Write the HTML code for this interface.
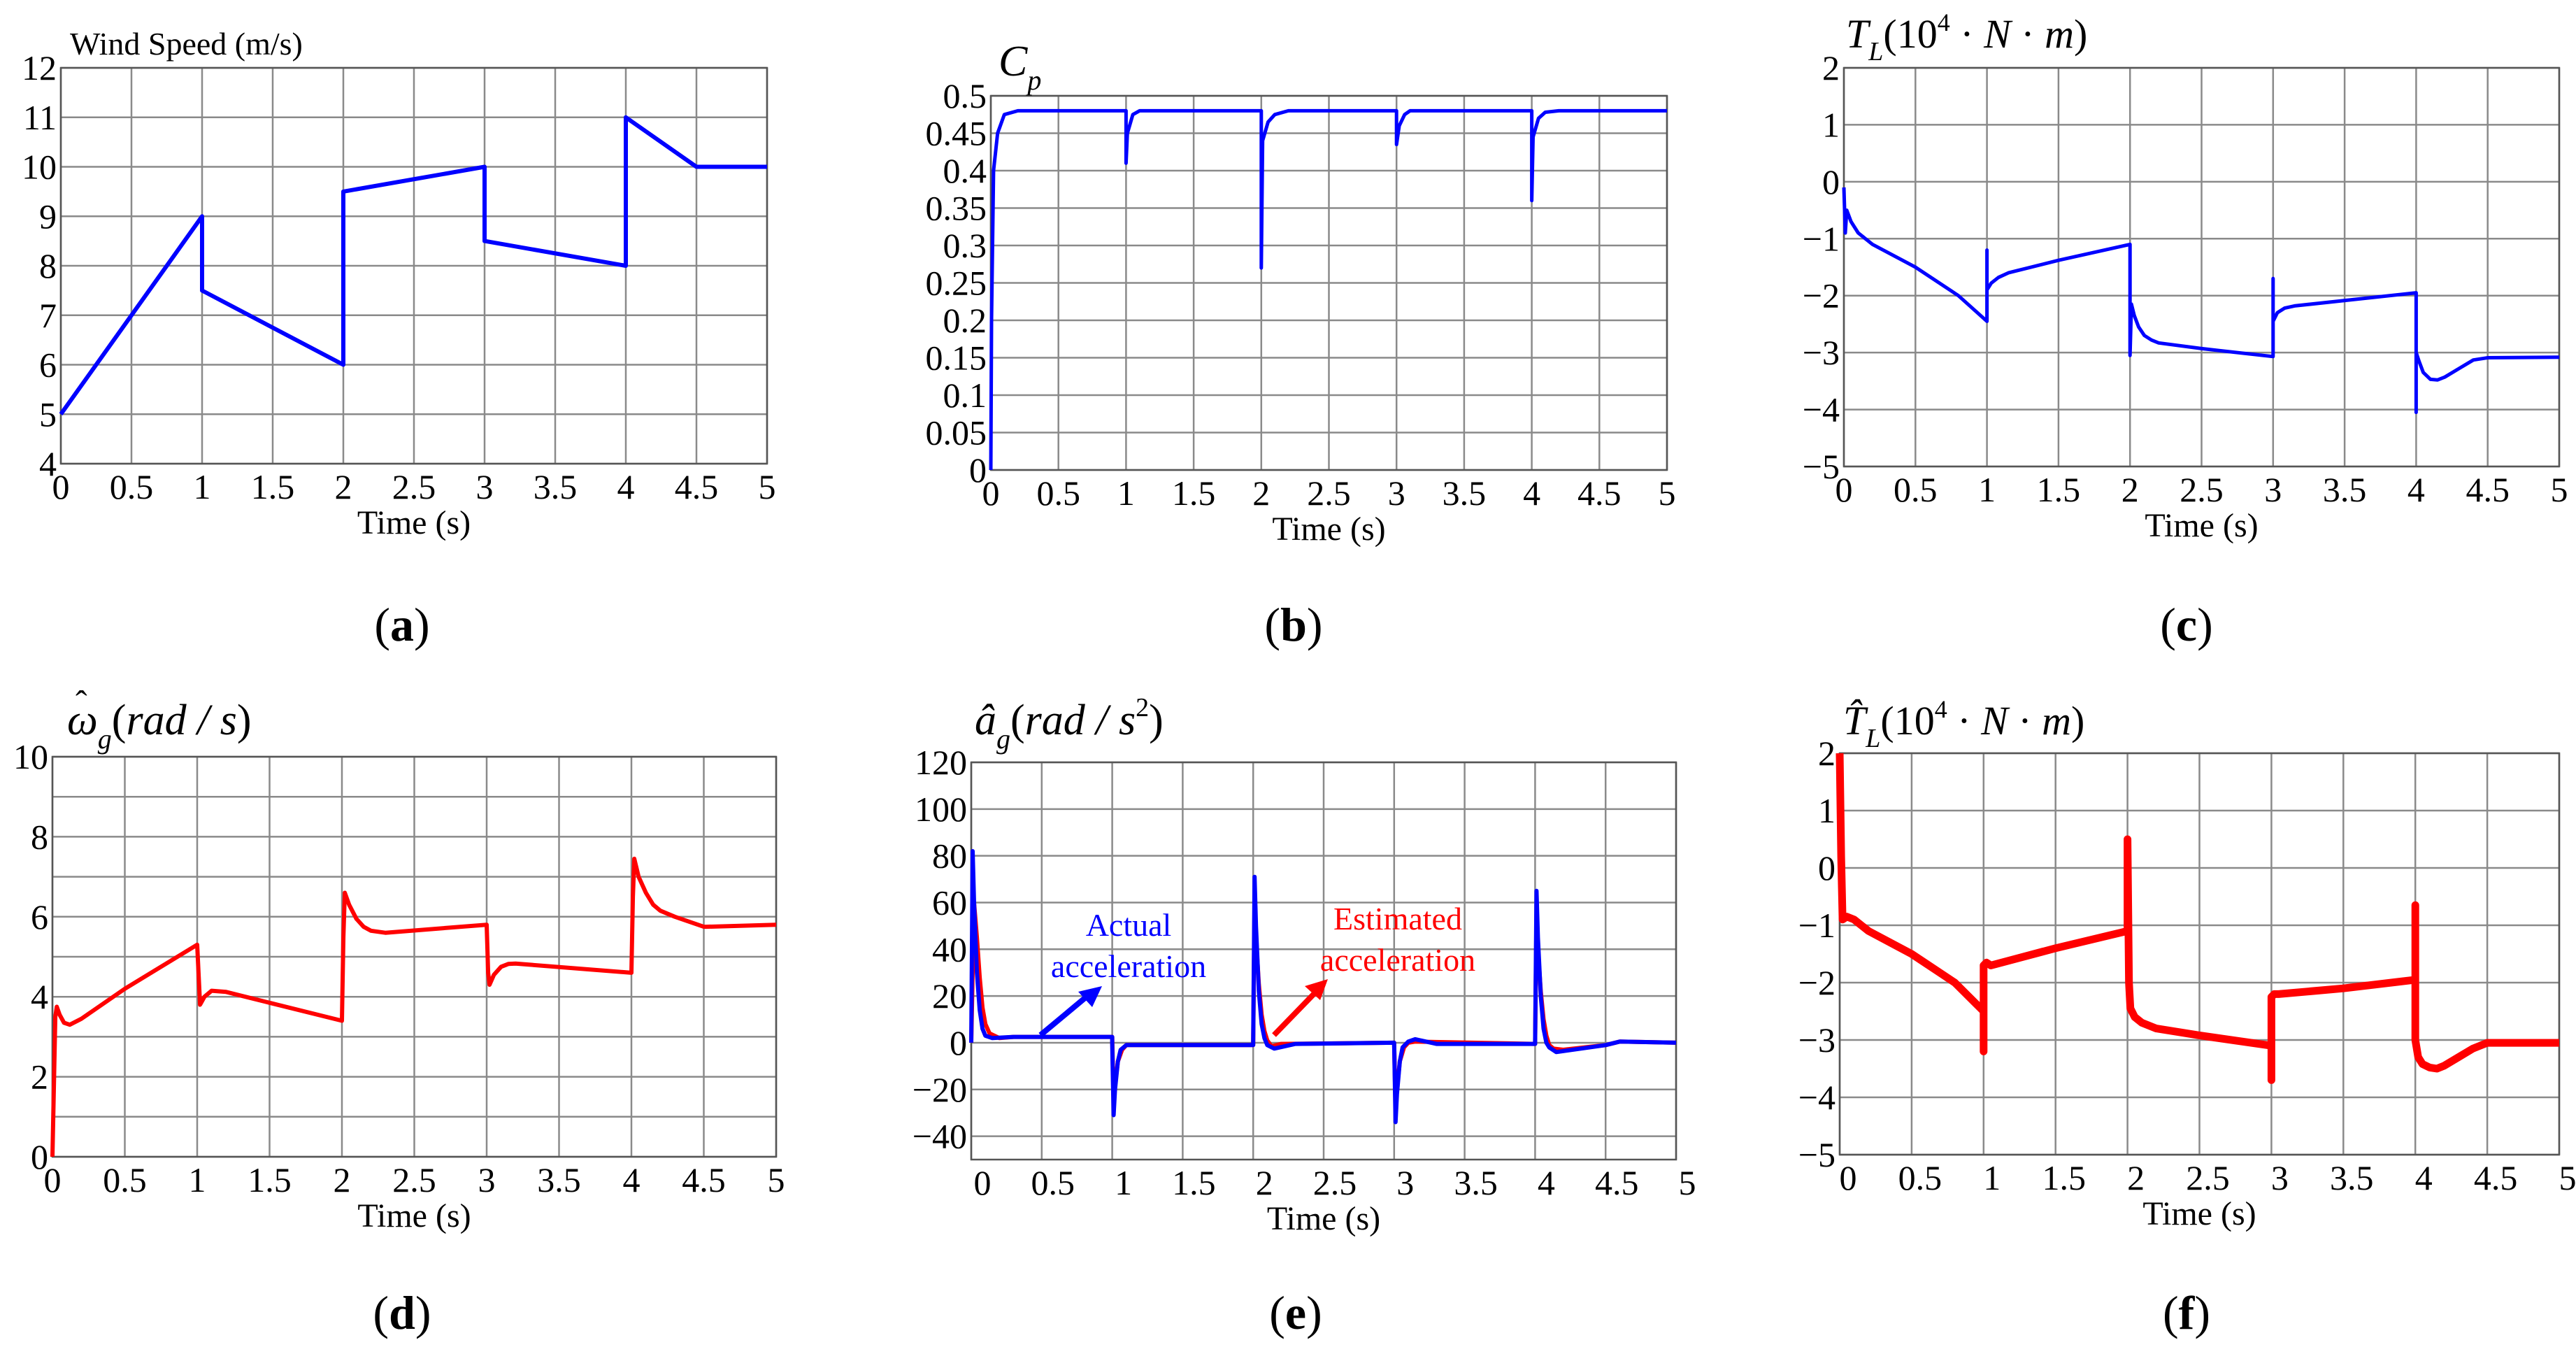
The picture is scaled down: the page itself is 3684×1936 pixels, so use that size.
<!DOCTYPE html>
<html><head><meta charset="utf-8"><style>
html,body{margin:0;padding:0;background:#fff;}
svg{display:block;font-family:"Liberation Serif",serif;}
svg text{font-family:"Liberation Serif",serif;}
</style></head><body>
<svg id="fig" width="3684" height="1936" viewBox="0 0 3684 1936" xmlns="http://www.w3.org/2000/svg">
<rect width="3684" height="1936" fill="#fff"/>
<g id="layer"></g>
<!-- titles -->
<text x="100" y="78" font-size="46">Wind Speed (m/s)</text>
<text x="1428" y="108" font-size="62" font-style="italic">C<tspan font-size="40" dy="20">p</tspan></text>
<text x="2640" y="68" font-size="58"><tspan font-style="italic">T</tspan><tspan font-size="38" dy="18" font-style="italic">L</tspan><tspan dy="-18">(10</tspan><tspan font-size="36" dy="-24">4</tspan><tspan dy="24"> · </tspan><tspan font-style="italic">N</tspan><tspan> · </tspan><tspan font-style="italic">m</tspan><tspan>)</tspan></text>
<text x="96" y="1050" font-size="62"><tspan font-style="italic">ω</tspan><tspan font-size="40" dy="20" font-style="italic">g</tspan><tspan dy="-20">(</tspan><tspan font-style="italic">rad / s</tspan><tspan>)</tspan></text>
<text x="108" y="1022" font-size="50">ˆ</text>
<text x="1394" y="1050" font-size="62"><tspan font-style="italic">â</tspan><tspan font-size="40" dy="20" font-style="italic">g</tspan><tspan dy="-20">(</tspan><tspan font-style="italic">rad / s</tspan><tspan font-size="38" dy="-26">2</tspan><tspan dy="26">)</tspan></text>
<text x="2636" y="1050" font-size="58"><tspan font-style="italic">T̂</tspan><tspan font-size="38" dy="18" font-style="italic">L</tspan><tspan dy="-18">(10</tspan><tspan font-size="36" dy="-24">4</tspan><tspan dy="24"> · </tspan><tspan font-style="italic">N</tspan><tspan> · </tspan><tspan font-style="italic">m</tspan><tspan>)</tspan></text>
<!-- panel labels -->
<g font-size="68" text-anchor="middle">
<text x="575" y="916">(<tspan font-weight="bold">a</tspan>)</text>
<text x="1850" y="916">(<tspan font-weight="bold">b</tspan>)</text>
<text x="3127" y="916">(<tspan font-weight="bold">c</tspan>)</text>
<text x="575" y="1900">(<tspan font-weight="bold">d</tspan>)</text>
<text x="1853" y="1900">(<tspan font-weight="bold">e</tspan>)</text>
<text x="3127" y="1900">(<tspan font-weight="bold">f</tspan>)</text>
</g>
<!-- annotations (e) -->
<g font-size="46">
<text x="1614" y="1338" fill="#0000ff" text-anchor="middle">Actual</text>
<text x="1614" y="1397" fill="#0000ff" text-anchor="middle">acceleration</text>
<text x="1999" y="1329" fill="#ff0000" text-anchor="middle">Estimated</text>
<text x="1999" y="1388" fill="#ff0000" text-anchor="middle">acceleration</text>
</g>
<g>
<line x1="1488" y1="1480" x2="1560" y2="1420" stroke="#0000ff" stroke-width="8"/>
<polygon points="1576,1410 1542,1418 1562,1440" fill="#0000ff"/>
</g>
<g>
<line x1="1822" y1="1480" x2="1886" y2="1414" stroke="#ff0000" stroke-width="8"/>
<polygon points="1899,1400 1866,1410 1888,1430" fill="#ff0000"/>
</g>
</svg>
<script>
// (a) wind speed
const aT=[0,1,1,2,2,3,3,4,4,4.5,5];
const aV=[5,9,7.5,6,9.5,10,8.5,8,11,10,10];
// (b) Cp
const bT=[0,0.005,0.02,0.05,0.1,0.2,1,1.0,1.01,1.05,1.1,2,2.0,2.01,2.05,2.1,2.2,3,3.0,3.02,3.06,3.1,4,4.0,4.01,4.05,4.1,4.2,5];
const bV=[0,0.2,0.4,0.45,0.475,0.48,0.48,0.41,0.45,0.475,0.48,0.48,0.27,0.44,0.465,0.475,0.48,0.48,0.435,0.46,0.475,0.48,0.48,0.36,0.445,0.47,0.478,0.48,0.48];
// (c) TL
const cT=[0,0.01,0.02,0.05,0.1,0.2,0.5,0.8,1,1.0,1.0,1.03,1.08,1.15,1.5,2,2.0,2.01,2.03,2.06,2.1,2.15,2.2,2.5,3,3.0,3.0,3.03,3.08,3.15,4,4.0,4.0,4.02,4.05,4.1,4.15,4.2,4.3,4.4,4.5,5];
const cV=[-0.1,-0.9,-0.5,-0.7,-0.9,-1.1,-1.5,-2.0,-2.45,-1.2,-1.9,-1.78,-1.68,-1.6,-1.38,-1.1,-3.05,-2.15,-2.35,-2.55,-2.7,-2.78,-2.83,-2.93,-3.07,-1.7,-2.45,-2.3,-2.22,-2.18,-1.95,-4.05,-3.0,-3.15,-3.35,-3.47,-3.48,-3.43,-3.28,-3.13,-3.09,-3.08];
// (d) omega hat
const dT=[0,0.02,0.03,0.05,0.08,0.12,0.2,0.5,1,1.02,1.05,1.1,1.2,1.5,2,2.01,2.02,2.05,2.1,2.15,2.2,2.3,3,3.01,3.02,3.05,3.1,3.15,3.2,3.3,4,4.01,4.02,4.05,4.1,4.15,4.2,4.3,4.5,4.52,5];
const dV=[0,3.5,3.75,3.55,3.35,3.3,3.45,4.2,5.3,3.8,4.0,4.15,4.12,3.85,3.4,5.5,6.6,6.3,5.95,5.75,5.65,5.6,5.8,4.6,4.3,4.55,4.75,4.82,4.83,4.8,4.6,6.5,7.45,7.0,6.6,6.3,6.15,6.0,5.75,5.75,5.8];
// (e) acceleration
const eRedT=[0,0.02,0.04,0.06,0.08,0.1,0.13,0.2,0.3,1,1.01,1.02,1.04,1.07,1.1,1.15,2,2.01,2.02,2.04,2.06,2.08,2.1,2.13,2.2,3,3.01,3.02,3.04,3.07,3.1,3.15,4,4.01,4.02,4.04,4.06,4.08,4.1,4.13,4.2,4.5,4.6,5];
const eRedV=[0,60,45,28,15,8,4,2,2.5,2.5,-25,-18,-8,-3,-1,-1,-1,60,45,25,12,5,1,-1.5,-0.5,0,-28,-20,-8,-2,0,0.5,-0.5,55,40,22,10,3,-1,-2.5,-3,-1,0.5,0];
const eBlueT=[0,0.01,0.02,0.04,0.06,0.08,0.1,0.15,0.3,1,1.0,1.01,1.02,1.04,1.06,1.1,1.2,2,2.0,2.01,2.02,2.04,2.06,2.08,2.1,2.15,2.3,3,3.0,3.01,3.02,3.04,3.06,3.1,3.15,3.3,4,4.0,4.01,4.02,4.04,4.06,4.08,4.1,4.15,4.5,4.6,5];
const eBlueV=[0,82,60,30,14,6,3,2,2.5,2.5,0,-31,-20,-8,-3,-1,-1,-1,0,71,50,22,8,2,-1,-2.5,-0.5,0,0,-34,-22,-8,-2,0.5,1.5,-0.5,-0.5,0,65,45,20,6,0,-2,-4,-1,0.5,0];
// (f) TL hat
const fT=[0,0.01,0.02,0.05,0.1,0.2,0.5,0.8,1,1.0,1.0,1.02,1.05,1.5,2,2.0,2.01,2.02,2.05,2.1,2.2,2.5,3,3.0,3.0,3.02,3.05,3.5,4,4.0,4.0,4.02,4.05,4.1,4.15,4.2,4.3,4.4,4.5,5];
const fV=[2,0.2,-0.9,-0.85,-0.9,-1.1,-1.5,-2.0,-2.5,-3.2,-1.7,-1.65,-1.7,-1.4,-1.1,0.5,-2.0,-2.45,-2.6,-2.7,-2.8,-2.92,-3.1,-3.7,-2.25,-2.2,-2.2,-2.1,-1.95,-0.65,-3.0,-3.3,-3.42,-3.48,-3.5,-3.45,-3.3,-3.15,-3.05,-3.05];
const xTicks=[0,0.5,1,1.5,2,2.5,3,3.5,4,4.5,5];
const aYTicks=[4,5,6,7,8,9,10,11,12];
const bYTicks=[0,0.05,0.1,0.15,0.2,0.25,0.3,0.35,0.4,0.45,0.5];
const cYTicks=[-5,-4,-3,-2,-1,0,1,2];
const dYTicks=[0,2,4,6,8,10];
const dGrid=[0,1,2,3,4,5,6,7,8,9,10];
const eYTicks=[-40,-20,0,20,40,60,80,100,120];

const NS='http://www.w3.org/2000/svg';
const layer=document.getElementById('layer');
function mk(tag,attrs,parent){const e=document.createElementNS(NS,tag);for(const k in attrs)e.setAttribute(k,attrs[k]);(parent||layer).appendChild(e);return e;}
function fmt(v){return (v<0?'−':'')+String(Math.abs(v));}
function panel(id,box,ymin,ymax,yTicks,yGrid,xOff){
  const g=mk('g',{});
  
  
  const sx=t=>box.x0+(t-0)/5*(box.x1-box.x0);
  const sy=v=>box.y1-(v-ymin)/(ymax-ymin)*(box.y1-box.y0);
  xTicks.forEach(t=>{const l=mk('line',{x1:sx(t),x2:sx(t),y1:box.y0,y2:box.y1,stroke:'#8a8a8a','stroke-width':2.5},g);
    
    const tx=mk('text',{x:sx(t)+(xOff||0),y:box.y1+50,'font-size':50,'text-anchor':'middle'},g);tx.textContent=t;
    });
  yGrid.forEach(v=>{const l=mk('line',{x1:box.x0,x2:box.x1,y1:sy(v),y2:sy(v),stroke:'#8a8a8a','stroke-width':2.5},g);
    });
  yTicks.forEach(v=>{const tx=mk('text',{x:box.x0-6,y:sy(v)+17,'font-size':50,'text-anchor':'end'},g);tx.textContent=fmt(v);
    });
  const fr=mk('rect',{x:box.x0,y:box.y0,width:box.x1-box.x0,height:box.y1-box.y0,fill:'none',stroke:'#555','stroke-width':2.5},g);
  
  const xl=mk('text',{x:(box.x0+box.x1)/2,y:box.y1+100,'font-size':48,'text-anchor':'middle'},g);xl.textContent='Time (s)';
  
  return {g,sx,sy};
}
function series(p,T,V,color,w,name){
  const pts=T.map((t,i)=>p.sx(t).toFixed(1)+','+p.sy(V[i]).toFixed(1)).join(' ');
  const pl=mk('polyline',{points:pts,fill:'none',stroke:color,'stroke-width':w,'stroke-linejoin':'round'},p.g);
  
  
}
const pa=panel('a',{x0:87,x1:1097,y0:97,y1:663},4,12,aYTicks,aYTicks);
series(pa,aT,aV,'#0000ff',6,'wind-speed-line');
const pb=panel('b',{x0:1417,x1:2384,y0:137,y1:672},0,0.5,bYTicks,bYTicks);
series(pb,bT,bV,'#0000ff',5,'cp-line');
const pc=panel('c',{x0:2637,x1:3660,y0:97,y1:667},-5,2,cYTicks,cYTicks);
series(pc,cT,cV,'#0000ff',5,'tl-line');
const pd=panel('d',{x0:75,x1:1110,y0:1082,y1:1654},0,10,dYTicks,dGrid);
series(pd,dT,dV,'#ff0000',6,'omega-hat-line');
const pe=panel('e',{x0:1389,x1:2397,y0:1090,y1:1658},-50,120,eYTicks,eYTicks,16);
series(pe,eRedT,eRedV,'#ff0000',6,'estimated-acceleration-line');
series(pe,eBlueT,eBlueV,'#0000ff',6,'actual-acceleration-line');
const pf=panel('f',{x0:2631,x1:3660,y0:1077,y1:1651},-5,2,cYTicks,cYTicks,12);
series(pf,fT,fV,'#ff0000',11,'tl-hat-line');
</script>
</body></html>
